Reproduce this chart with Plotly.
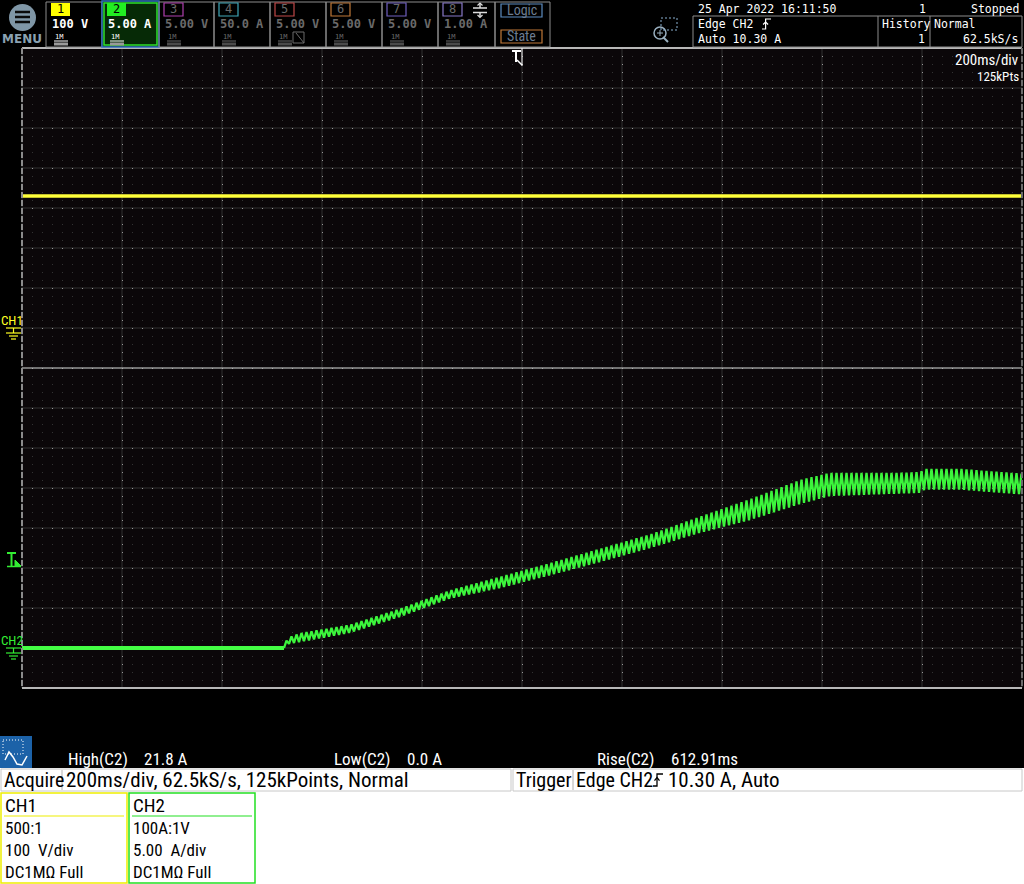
import numpy as np
import plotly.graph_objects as go

ch1_time = [-1.0, 1.0]            # s, relative to trigger
ch1_volts = [330.0, 330.0]        # V

ch2_flat_t = [-1.0, -0.476]       # s
ch2_flat_a = [0.0, 0.0]           # A

# envelope of the 100 Hz ripple on CH2
env_t = [-0.476, -0.468, -0.444, -0.344, -0.244, -0.144, -0.044, 0.056, 0.156,
         0.256, 0.356, 0.456, 0.556, 0.616, 0.756, 0.796, 0.806, 0.876, 0.956, 1.0]
env_lo = [0.0, 0.5, 0.75, 1.9, 3.9, 6.2, 7.5, 9.1, 10.75,
          12.5, 14.4, 16.0, 18.0, 19.0, 19.3, 19.4, 19.8, 19.8, 19.4, 19.2]
env_hi = [0.3, 1.3, 1.85, 2.9, 4.9, 7.2, 8.9, 10.6, 12.4,
          14.2, 16.4, 18.6, 21.0, 21.9, 21.9, 22.0, 22.4, 22.4, 22.0, 21.8]
ripple_period = 0.010             # s (100 Hz)

ch_numbers = ["1", "2", "3", "4", "5", "6", "7", "8"]
ch_scales = ["100 V", "5.00 A", "5.00 V", "50.0 A", "5.00 V", "5.00 V", "5.00 V", "1.00 A"]
ch_colors = ["#ffff00", "#22ee22", "#b040b0", "#40a8b8", "#c04848", "#c07838", "#7060c0", "#8878c8"]

meas_labels = ["High(C2)", "Low(C2)", "Rise(C2)"]
meas_values = ["21.8 A", "0.0 A", "612.91ms"]

# ---------------- helpers ----------------
W, H = 1024, 884
FN = "Liberation Sans Narrow, Arial Narrow, Roboto Condensed, DejaVu Sans Condensed, sans-serif"
FM = "DejaVu Sans Mono, Liberation Mono, monospace"


def P(x):
    return x / W


def Q(y):
    return 1 - y / H


shapes = []
annots = []


def line(x0, y0, x1, y1, color, width=1, dash=None, layer="above"):
    d = dict(color=color, width=width)
    if dash:
        d["dash"] = dash
    shapes.append(dict(type="line", xref="paper", yref="paper", x0=P(x0), y0=Q(y0),
                       x1=P(x1), y1=Q(y1), line=d, layer=layer))


def rect(x0, y0, x1, y1, lc=None, fill=None, width=1, layer="above", dash=None):
    ln = dict(color=lc if lc else "rgba(0,0,0,0)", width=width if lc else 0)
    if dash:
        ln["dash"] = dash
    shapes.append(dict(type="rect", xref="paper", yref="paper", x0=P(x0), y0=Q(y0),
                       x1=P(x1), y1=Q(y1), line=ln,
                       fillcolor=fill if fill else "rgba(0,0,0,0)", layer=layer))


def path(pts, color, width=1, fill=None, closed=False):
    s = "M " + " L ".join(f"{P(x):.5f},{Q(y):.5f}" for x, y in pts)
    if closed:
        s += " Z"
    shapes.append(dict(type="path", xref="paper", yref="paper", path=s,
                       line=dict(color=color, width=width),
                       fillcolor=fill if fill else "rgba(0,0,0,0)"))


def text(x, y, s, size, color, xanchor="left", family=FN, yanchor="middle", align="left"):
    annots.append(dict(x=P(x), y=Q(y), xref="paper", yref="paper", text=s, showarrow=False,
                       xanchor=xanchor, yanchor=yanchor, borderpad=0, align=align,
                       font=dict(size=size, color=color, family=family)))


def edge_sym(x, ytop, h, w, color, width=1.2):
    # rising edge glyph
    path([(x, ytop + h), (x + w * 0.4, ytop + h), (x + w * 0.4, ytop), (x + w, ytop)], color, width)
    path([(x + w * 0.4 - 2.5, ytop + h * 0.55), (x + w * 0.4, ytop + h * 0.3),
          (x + w * 0.4 + 2.5, ytop + h * 0.55)], color, width)


# ---------------- figure ----------------
fig = go.Figure()

fig.add_trace(go.Scatter(x=ch1_time, y=ch1_volts, yaxis="y2", mode="lines",
                         line=dict(color="#ffff3a", width=3.5), hoverinfo="skip"))

fig.add_trace(go.Scatter(x=ch2_flat_t, y=ch2_flat_a, mode="lines",
                         line=dict(color="#44ff44", width=4), hoverinfo="skip"))

half = ripple_period / 2
n = int(round((env_t[-1] - env_t[0]) / half))
tz = env_t[0] + half * np.arange(n + 1)
lo = np.interp(tz, env_t, env_lo)
hi = np.interp(tz, env_t, env_hi)
yz = np.where(np.arange(n + 1) % 2 == 0, lo, hi)
fig.add_trace(go.Scatter(x=tz, y=yz, mode="lines",
                         line=dict(color="#3cf53c", width=2.3), hoverinfo="skip"))

# ---------------- grid backing lines at major divisions ----------------
GRID = "#333333"
for k in range(11):
    x = 22 + 100 * k
    line(x, 48, x, 688, GRID, 1, layer="below")
for k in range(17):
    y = 48 + 40 * k
    line(22, y, 1022, y, GRID, 1, layer="below")

# white area at bottom
rect(0, 768, 1024, 884, fill="#ffffff", layer="below")

# zone divider and frame
line(22, 368, 1022, 368, "#c8c8c8", 1.2)
line(22, 48, 1022, 48, "#b8b8b8", 2)
line(22, 688, 1022, 688, "#b8b8b8", 2)
line(22, 48, 22, 688, "#8c8c8c", 2, dash="6px,2px")
line(1022, 48, 1022, 688, "#6c6c6c", 2, dash="6px,2px")

# ---------------- header ----------------
shapes.append(dict(type="circle", xref="paper", yref="paper", x0=P(9), x1=P(36), y0=Q(4), y1=Q(31),
                   fillcolor="#7f96a6", line=dict(width=0)))
for yy in (12, 17, 22):
    line(15, yy, 30, yy, "#0a0a0a", 2.5)
text(22, 39, "<b>MENU</b>", 12, "#8aa2b2", xanchor="center", family="DejaVu Sans, sans-serif")

boxes = [(46, 102), (102, 159), (159, 214), (214, 270), (270, 326), (326, 382), (382, 438), (438, 495)]
for i, (x0, x1) in enumerate(boxes):
    if i == 1:
        rect(x0, 1, x1, 47, lc="#3070c0", fill="#062a06", width=1.5)
        rect(x0 + 2, 3, x1 - 2, 45, lc="#2fe02f", width=1.5)
    else:
        rect(x0, 2, x1, 47, lc="#8c8c8c", width=1)
    c = ch_colors[i]
    if i < 2:
        rect(x0 + 5, 3, x0 + 24, 16, fill=c)
        text(x0 + 14.5, 9.5, ch_numbers[i], 12, "#000000", xanchor="center", family=FM)
        vcol = "#ffffff"
    else:
        rect(x0 + 5, 3, x0 + 24, 16, lc=c, width=1.2)
        text(x0 + 14.5, 9.5, ch_numbers[i], 12, "#6a6a6a", xanchor="center", family=FM)
        vcol = "#6a6a6a"
    text(x0 + 5, 24, "<b>" + ch_scales[i] + "</b>", 12, vcol, family=FM)
    mcol = "#ffffff" if i < 2 else "#6a6a6a"
    text(x0 + 8, 37, "1M", 7, mcol, family=FM)
    line(x0 + 8, 41, x0 + 22, 41, mcol, 1)
    rect(x0 + 8, 42.5, x0 + 22, 45.5, fill="#9a9a9a" if i < 2 else "#4a4a4a")

# channel 5 extra icon
rect(293, 32, 304, 43, lc="#6a6a6a", width=1)
line(296, 33, 304, 43, "#6a6a6a", 1)
# channel 8 position icon
line(473, 8, 487, 8, "#dddddd", 1.5)
line(473, 12.5, 487, 12.5, "#dddddd", 1.5)
line(480, 3.5, 480, 8, "#dddddd", 1.5)
line(480, 12.5, 480, 17, "#dddddd", 1.5)
path([(477.5, 5.5), (480, 3), (482.5, 5.5)], "#dddddd", 1.2)
path([(477.5, 15), (480, 17.5), (482.5, 15)], "#dddddd", 1.2)

# logic/state
rect(495, 2, 550, 47, lc="#8c8c8c", width=1)
rect(501, 4, 542, 17, lc="#5c8cc0", width=1.2)
text(521.5, 10.5, "Logic", 14, "#6c7c90", xanchor="center", family=FN)
rect(501, 30, 542, 43, lc="#c07838", width=1.2)
text(521.5, 36.5, "State", 14, "#6c7c90", xanchor="center", family=FN)

# zoom icon
shapes.append(dict(type="circle", xref="paper", yref="paper", x0=P(654), x1=P(666), y0=Q(27), y1=Q(39),
                   line=dict(color="#9ab0c0", width=1.5)))
line(663, 37, 668, 42, "#9ab0c0", 2)
line(657, 33, 663, 33, "#9ab0c0", 1)
line(660, 30, 660, 36, "#9ab0c0", 1)
rect(661, 18, 677, 30, lc="#8ab0d0", width=1, dash="2px,2px")

# date / status
text(697, 9, "25 Apr 2022 16:11:50", 11.5, "#ffffff", family=FM)
text(927, 9, "1", 11.5, "#ffffff", xanchor="right", family=FM)
text(1020, 9, "Stopped", 11.5, "#ffffff", xanchor="right", family=FM)
rect(693, 16, 1022, 47, lc="#8c8c8c", width=1)
line(878, 16, 878, 47, "#8c8c8c", 1)
line(930, 16, 930, 47, "#8c8c8c", 1)
text(697, 24, "Edge CH2", 11.5, "#ffffff", family=FM)
edge_sym(762, 19, 10, 9, "#ffffff")
text(697, 39, "Auto 10.30 A", 11.5, "#ffffff", family=FM)
text(881, 24, "History", 11.5, "#ffffff", family=FM)
text(926, 39, "1", 11.5, "#ffffff", xanchor="right", family=FM)
text(933, 24, "Normal", 11.5, "#ffffff", family=FM)
text(1019, 39, "62.5kS/s", 11.5, "#ffffff", xanchor="right", family=FM)

# ---------------- in-plot labels ----------------
text(1020, 60, "200ms/div", 15, "#ffffff", xanchor="right")
text(1020, 76, "125kPts", 13, "#ffffff", xanchor="right")

# trigger position marker (top)
line(512, 51, 521, 51, "#ffffff", 2)
line(516, 51, 516, 62, "#ffffff", 2)
line(522, 48, 522, 66, "#ffffff", 1)
path([(517, 60), (520, 63), (522, 65)], "#ffffff", 1.5)

# CH1 ground marker
text(0, 320, "CH1", 13, "#ffff22")
for (a, b, yy) in [(6, 21, 328), (6, 21, 333), (9, 18, 336), (11, 16, 339)]:
    line(a, yy, b, yy, "#ffff22", 1.2)
line(13.5, 328, 13.5, 333, "#ffff22", 1.2)

# CH2 ground marker
text(0, 640, "CH2", 13, "#33ee33")
for (a, b, yy) in [(6, 21, 648), (6, 21, 653), (9, 18, 656), (11, 16, 659)]:
    line(a, yy, b, yy, "#33ee33", 1.2)
line(13.5, 648, 13.5, 653, "#33ee33", 1.2)

# trigger level marker
line(7, 553, 16, 553, "#33ee33", 2)
line(11.5, 553, 11.5, 566, "#33ee33", 2)
line(7, 566.5, 21, 566.5, "#33ee33", 1.5)
path([(15, 560), (15, 566), (21, 566)], "#33ee33", 1, fill="#33ee33", closed=True)

# ---------------- measurement bar ----------------
rect(0, 736, 32, 768, fill="#1c62a8")
rect(3, 740, 23, 754, lc="#ffffff", width=1, dash="1px,2px")
path([(5, 760), (9, 752), (13, 757), (17, 764), (22, 765), (27, 756)], "#ffffff", 1.5)

meas_x = [(67, 143), (333, 406), (596, 670)]
for (lx, vx), lab, val in zip(meas_x, meas_labels, meas_values):
    text(lx, 759, lab, 17, "#ffffff")
    text(vx, 759, val, 17, "#ffffff")

# ---------------- bottom info boxes ----------------
rect(1, 769, 511, 791, lc="#c8c8c8", width=1)
line(62, 770, 62, 790, "#b0b0b0", 1)
text(3, 780, "Acquire", 20, "#000000")
text(65, 780, "200ms/div, 62.5kS/s, 125kPoints, Normal", 21, "#000000")

rect(513, 769, 1022, 791, lc="#c8c8c8", width=1)
line(573, 770, 573, 790, "#b0b0b0", 1)
text(515, 780, "Trigger", 20, "#000000")
text(575, 780, "Edge CH2", 20, "#000000")
edge_sym(653, 774, 12, 10, "#000000", 1.3)
text(667, 780, "10.30 A, Auto", 21, "#000000")

for (x0, x1, col, lines) in [
    (1, 127, "#eeee00", ["CH1", "500:1", "100  V/div", "DC1MΩ Full"]),
    (129, 255, "#22e022", ["CH2", "100A:1V", "5.00  A/div", "DC1MΩ Full"]),
]:
    rect(x0, 793, x1, 883, lc=col, width=1.5)
    line(x0 + 3, 816, x1 - 3, 816, col, 1.2)
    text(x0 + 3, 805, lines[0], 19, "#000000")
    text(x0 + 3, 850, "<br>".join(lines[1:]), 17, "#000000")

# ---------------- layout ----------------
fig.update_layout(
    width=W, height=H,
    margin=dict(l=0, r=0, t=0, b=0),
    paper_bgcolor="#000000",
    plot_bgcolor="#0b0709",
    showlegend=False,
    xaxis=dict(domain=[22 / W, 1022 / W], range=[-1, 1], showticklabels=False, ticks="",
               zeroline=False, showline=False, showgrid=True, tick0=-1, dtick=0.2,
               gridcolor="#9a9a9a", gridwidth=1, griddash="1px,7px",
               minor=dict(tick0=-1, dtick=0.02, showgrid=True, gridcolor=GRID, gridwidth=1),
               fixedrange=True),
    yaxis=dict(domain=[196 / H, 836 / H], range=[-5, 75], showticklabels=False, ticks="",
               zeroline=False, showline=False, showgrid=True, tick0=0, dtick=5,
               gridcolor="#9a9a9a", gridwidth=1, griddash="1px,9px",
               minor=dict(tick0=0, dtick=1, showgrid=True, gridcolor=GRID, gridwidth=1),
               fixedrange=True),
    yaxis2=dict(domain=[196 / H, 836 / H], range=[-900, 700], overlaying="y", visible=False,
                fixedrange=True),
    shapes=shapes,
    annotations=annots,
)

fig.write_html("out.html", config={"displayModeBar": False},
               post_script="document.body.style.margin='0px';")
